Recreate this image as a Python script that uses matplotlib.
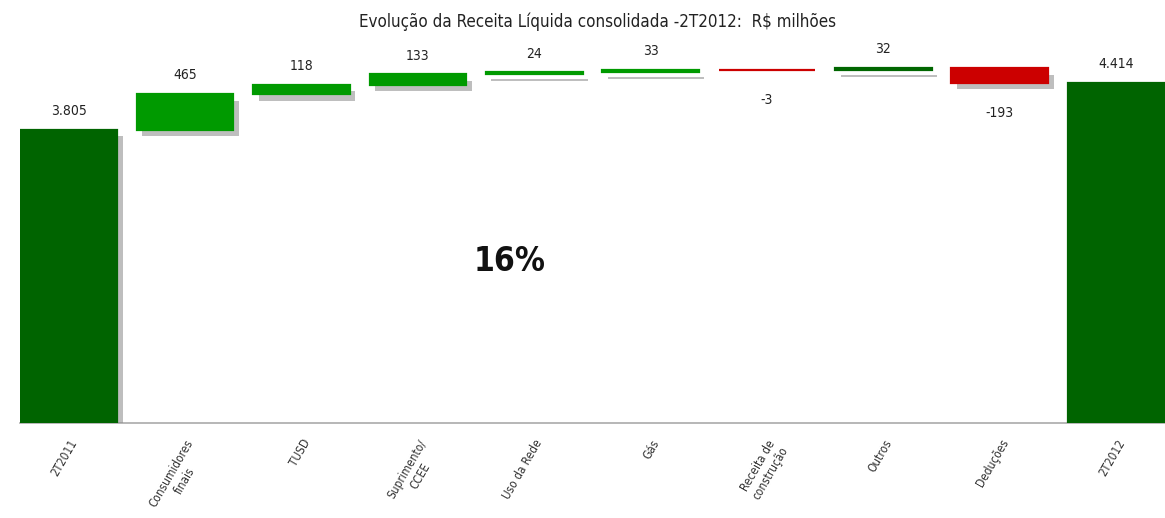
import matplotlib
matplotlib.use("Agg")
import matplotlib.pyplot as plt
import matplotlib.patheffects as pe
import numpy as np

plt.rcParams['font.family'] = ['DejaVu Sans']
plt.rcParams['font.stretch'] = 'condensed'

categories = ["2T2011", "Consumidores\nfinais", "TUSD", "Suprimento/\nCCEE", "Uso da Rede",
              "Gás", "Receita de\nconstrução", "Outros", "Deduções", "2T2012"]
start_total = 3805
changes = [465, 118, 133, 24, 33, -3, 32, -193]
end_total = 4414
value_labels = ["3.805", "465", "118", "133", "24", "33", "-3", "32", "-193", "4.414"]
change_colors = ["#009a00", "#009a00", "#009a00", "#009a00", "#009a00", "#cc0000", "#006600", "#cc0000"]
total_color = "#006400"

fig = plt.figure(figsize=(11.65, 5.18), dpi=100)
ax = fig.add_axes([0.017, 0.183, 0.983, 0.745])

x = np.arange(len(categories))
bottoms = [0]
heights = [start_total]
colors = [total_color]
running = start_total
for c, col in zip(changes, change_colors):
    if c >= 0:
        bottoms.append(running)
    else:
        bottoms.append(running + c)
    heights.append(abs(c))
    colors.append(col)
    running += c
bottoms.append(0)
heights.append(end_total)
colors.append(total_color)

shadow = [pe.SimplePatchShadow(offset=(4, -5), shadow_rgbFace="#8a8a8a", alpha=0.55), pe.Normal()]
bars = ax.bar(x, heights, bottom=bottoms, width=0.83, color=colors,
              edgecolor=colors, linewidth=1.6, zorder=3)
for b in bars:
    b.set_path_effects(shadow)

for i, (b, h, lab) in enumerate(zip(bottoms, heights, value_labels)):
    is_neg = 0 < i < len(categories) - 1 and changes[i - 1] < 0
    if is_neg:
        ax.text(x[i], b - 300, lab, ha="center", va="top", fontsize=10, color="#222222")
    else:
        ax.text(x[i], b + h + 150, lab, ha="center", va="bottom", fontsize=10, color="#222222")

ax.text(3.79, 2090, "16%", ha="center", va="center", fontsize=24, fontweight="bold", color="#111111")

ax.set_xlim(-0.42, 9.42)
ax.set_ylim(0, 5000)
ax.set_xticks(x)
ax.set_xticklabels(categories, rotation=60, ha="right", rotation_mode="anchor",
                   fontsize=8.5, color="#333333", multialignment="center")
ax.tick_params(axis="x", length=0, pad=10)
ax.set_yticks([])
for s in ["top", "right", "left"]:
    ax.spines[s].set_visible(False)
ax.spines["bottom"].set_color("#aaaaaa")
ax.spines["bottom"].set_linewidth(1.2)

fig.text(0.513, 0.958, "Evolução da Receita Líquida consolidada -2T2012:  R$ milhões",
         ha="center", va="center", fontsize=12.2, color="#222222")

fig.savefig("out.png", dpi=100, facecolor="white")
